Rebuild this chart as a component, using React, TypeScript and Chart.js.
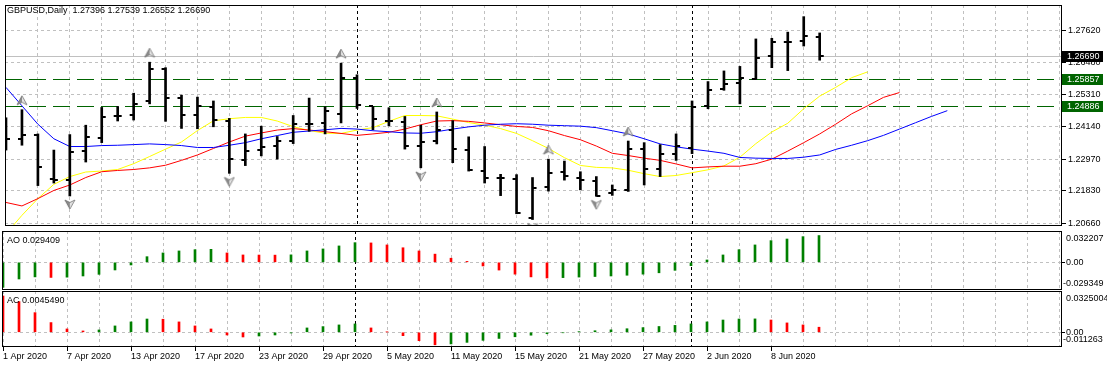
import React, { useEffect, useRef } from "react";
import { Chart, registerables } from "chart.js";

Chart.register(...registerables);

// ---------------- DATA ----------------
const symbolTitle = "GBPUSD,Daily";

const dateLabels = [
  "1 Apr 2020", "7 Apr 2020", "13 Apr 2020", "17 Apr 2020", "23 Apr 2020",
  "29 Apr 2020", "5 May 2020", "11 May 2020", "15 May 2020", "21 May 2020",
  "27 May 2020", "2 Jun 2020", "8 Jun 2020",
];
const dateLabelIndex = [0, 4, 8, 12, 16, 20, 24, 28, 32, 36, 40, 44, 48];
const monthStartIndex = [22, 43];

const opens = [
  1.2410, 1.23686, 1.23861, 1.22247, 1.22224, 1.23253, 1.23732, 1.24516, 1.24562, 1.25089,
  1.26235, 1.25171, 1.24562, 1.24855, 1.24364, 1.22949, 1.23288, 1.23452, 1.23639, 1.24247,
  1.24282, 1.24598, 1.25896, 1.24878, 1.24364, 1.24329, 1.23452, 1.23615, 1.24025, 1.23300,
  1.22528, 1.22282, 1.22236, 1.20844, 1.21967, 1.22493, 1.22282, 1.22177, 1.21756, 1.21861,
  1.23335, 1.22598, 1.23171, 1.23358, 1.24878, 1.25510, 1.25732, 1.25884, 1.26714, 1.27217,
  1.27264, 1.27396,
];
const highs = [
  1.24469, 1.24761, 1.23884, 1.23300, 1.23861, 1.24200, 1.24843, 1.24878, 1.25358, 1.26480,
  1.26281, 1.25288, 1.25217, 1.25077, 1.24446, 1.23884, 1.24165, 1.23791, 1.24551, 1.25182,
  1.24867, 1.26445, 1.26024, 1.24878, 1.24831, 1.24516, 1.24200, 1.24679, 1.24364, 1.23779,
  1.23428, 1.22423, 1.22411, 1.22306, 1.22972, 1.22902, 1.22516, 1.22341, 1.22037, 1.23627,
  1.23569, 1.23498, 1.23884, 1.25077, 1.25779, 1.26164, 1.26328, 1.27322, 1.27345, 1.27568,
  1.28129, 1.27539,
];
const lows = [
  1.23300, 1.23475, 1.22014, 1.22107, 1.21639, 1.22867, 1.23569, 1.24352, 1.24387, 1.24972,
  1.24340, 1.24083, 1.24071, 1.24142, 1.22458, 1.22738, 1.23089, 1.22972, 1.23534, 1.23978,
  1.23884, 1.24282, 1.24808, 1.24036, 1.24177, 1.23335, 1.22657, 1.23522, 1.22844, 1.22540,
  1.22107, 1.21651, 1.20996, 1.20786, 1.21815, 1.22212, 1.21861, 1.21628, 1.21660, 1.21803,
  1.22037, 1.22341, 1.22926, 1.23171, 1.24796, 1.25463, 1.24972, 1.25860, 1.26281, 1.26176,
  1.27065, 1.26552,
];
const closes = [
  1.23686, 1.23861, 1.22692, 1.22212, 1.23218, 1.23767, 1.24492, 1.24516, 1.24983, 1.26235,
  1.25182, 1.24562, 1.24902, 1.24387, 1.22972, 1.23253, 1.23405, 1.23615, 1.24235, 1.24247,
  1.24703, 1.25896, 1.24937, 1.24434, 1.24364, 1.23440, 1.23580, 1.24025, 1.23323, 1.22586,
  1.22306, 1.22282, 1.21020, 1.21932, 1.22458, 1.22353, 1.22212, 1.21651, 1.21838, 1.23323,
  1.22598, 1.23159, 1.23440, 1.24843, 1.25463, 1.25685, 1.25919, 1.26620, 1.27193, 1.27217,
  1.27439, 1.26690,
];

// Alligator (already shifted forward, as drawn)
const jawBlue = [
  1.25568, 1.24902, 1.24235, 1.23709, 1.23428, 1.23428, 1.23463, 1.23474, 1.23498, 1.23523,
  1.23498, 1.23463, 1.23393, 1.23393, 1.23474, 1.23568, 1.23709, 1.23825, 1.23944, 1.23989,
  1.24035, 1.24084, 1.24060, 1.24000, 1.23965, 1.23919, 1.23909, 1.23965, 1.24060, 1.24140,
  1.24200, 1.24235, 1.24253, 1.24235, 1.24200, 1.24182, 1.24165, 1.24112, 1.24000, 1.23884,
  1.23709, 1.23523, 1.23418, 1.23333, 1.23263, 1.23183, 1.23032, 1.23007, 1.22997, 1.22997,
  1.23042, 1.23123, 1.23323, 1.23474, 1.23639, 1.23832, 1.24060, 1.24288, 1.24516, 1.24726,
];
const teethRed = [
  1.21404, 1.21278, 1.21544, 1.21839, 1.22036, 1.22306, 1.22516, 1.22562, 1.22597, 1.22656,
  1.22751, 1.22927, 1.23123, 1.23358, 1.23593, 1.23804, 1.23919, 1.24025, 1.24077, 1.24025,
  1.23965, 1.23902, 1.23832, 1.23884, 1.23944, 1.24060, 1.24217, 1.24351, 1.24365, 1.24340,
  1.24281, 1.24217, 1.24155, 1.24119, 1.24000, 1.23825, 1.23674, 1.23446, 1.23183, 1.23102,
  1.23007, 1.22927, 1.22797, 1.22656, 1.22691, 1.22716, 1.22716, 1.22807, 1.22972, 1.23263,
  1.23568, 1.23884, 1.24235, 1.24610, 1.24902, 1.25207, 1.25382,
];
const lipsYellow = [
  1.20271, 1.20938, 1.21544, 1.22060, 1.22341, 1.22506, 1.22541, 1.22597, 1.22807, 1.23067,
  1.23333, 1.23593, 1.24007, 1.24358, 1.24435, 1.24481, 1.24481, 1.24351, 1.24147, 1.24007,
  1.23909, 1.23902, 1.24025, 1.24112, 1.24340, 1.24551, 1.24551, 1.24540, 1.24421, 1.24295,
  1.24200, 1.24077, 1.23902, 1.23639, 1.23358, 1.23025, 1.22744, 1.22674, 1.22656, 1.22569,
  1.22446, 1.22341, 1.22380, 1.22481, 1.22586, 1.22727, 1.23042, 1.23533, 1.23954, 1.24270,
  1.24796, 1.25252, 1.25568, 1.25919, 1.26129,
];

const fractalUpIndex = [1, 9, 21, 27, 34, 39];
const fractalDownIndex = [4, 14, 26, 33, 37];

const aoValues = [
  -0.0274, -0.0183, -0.0160, -0.0166, -0.0163, -0.0150, -0.0132, -0.0084, -0.0029, 0.0062,
  0.0103, 0.0125, 0.0139, 0.0143, 0.0103, 0.0081, 0.0080, 0.0079, 0.0082, 0.0125,
  0.0147, 0.0180, 0.0216, 0.0213, 0.0191, 0.0160, 0.0125, 0.0090, 0.0045, 0.0010,
  -0.0040, -0.0085, -0.0130, -0.0160, -0.0172, -0.0168, -0.0162, -0.0156, -0.0150, -0.0142,
  -0.0130, -0.0115, -0.0088, -0.0037, 0.0026, 0.0081, 0.0139, 0.0191, 0.0238, 0.0256,
  0.0282, 0.029409,
];
const acValues = [
  0.0325, 0.0275, 0.0176, 0.0087, 0.0030, 0.0012, 0.0021, 0.0057, 0.0093, 0.0119,
  0.0117, 0.0093, 0.0057, 0.0030, -0.0024, -0.0042, -0.0033, -0.0024, -0.0006, 0.0039,
  0.0051, 0.0066, 0.0075, 0.0039, 0.0003, -0.0030, -0.0075, -0.0112, -0.0104, -0.0090,
  -0.0072, -0.0055, -0.0040, -0.0026, -0.0013, -0.0004, 0.0006, 0.0014, 0.0022, 0.0032,
  0.0042, 0.0052, 0.0062, 0.0075, 0.0093, 0.0110, 0.0119, 0.0120, 0.0110, 0.0084,
  0.0066, 0.004549,
];

const priceTicks = [1.2066, 1.2183, 1.2297, 1.2414, 1.2531, 1.2648, 1.2762];
const levelLines = [1.25857, 1.24886];
const aoAxisLabels = ["0.032207", "0.00", "-0.029349"];
const acAxisLabels = ["0.0325004", "0.00", "-0.011263"];
const aoName = "AO 0.029409";
const acName = "AC 0.0045490";

// ---------------- RANGES / STYLE ----------------
const X_MIN = -0.0625;
const X_MAX = 66.1875;
const PRICE_MIN = 1.20552;
const PRICE_MAX = 1.2855;
const AO_MIN = -0.0304;
const AO_MAX = 0.0344;
const AC_MIN = -0.01316;
const AC_MAX = 0.03697;

const FONT = "'Liberation Sans', Arial, sans-serif";
const GRID = "#c0c0c0";
const GREEN = "#008000";
const RED = "#ff0000";

const zeroPad = (s: any) => {
  s.paddingLeft = 0;
  s.paddingRight = 0;
  s.paddingTop = 0;
  s.paddingBottom = 0;
};

const evenTicks = (s: any) => {
  const t: any[] = [];
  for (let v = 0; v <= X_MAX; v += 2) t.push({ value: v });
  s.ticks = t;
};

const xGridScale = () => ({
  type: "linear",
  position: "bottom",
  min: X_MIN,
  max: X_MAX,
  offset: false,
  afterBuildTicks: evenTicks,
  afterFit: (s: any) => {
    s.height = 0;
    zeroPad(s);
  },
  grid: { color: GRID, drawTicks: false, offset: false, lineWidth: 1 },
  border: { display: false, dash: [3, 3] },
  ticks: { display: false },
});

function makeTick(side: "left" | "right") {
  const c = document.createElement("canvas");
  c.width = 10;
  c.height = 2;
  const g = c.getContext("2d")!;
  g.fillStyle = "#000";
  if (side === "left") g.fillRect(1, 0, 4, 2);
  else g.fillRect(5, 0, 4, 2);
  return c;
}

function makeArrow(up: boolean) {
  const c = document.createElement("canvas");
  c.width = 12;
  c.height = 40;
  const g = c.getContext("2d")!;
  const cx = 6;
  const cy = up ? 20 - 9.5 : 20 + 8.5;
  const s = up ? 1 : -1;
  const apexY = cy - 4.5 * s;
  const baseY = cy + 4.5 * s;
  const notchY = cy + 2 * s;
  g.beginPath();
  g.moveTo(cx, apexY);
  g.lineTo(cx + 5, baseY);
  g.lineTo(cx, notchY);
  g.lineTo(cx - 5, baseY);
  g.closePath();
  g.fillStyle = "#e4e4e4";
  g.fill();
  g.beginPath();
  g.moveTo(cx, apexY);
  g.lineTo(cx, notchY);
  g.lineTo(cx - 5, baseY);
  g.closePath();
  g.fillStyle = "#8c8c8c";
  g.fill();
  g.beginPath();
  g.moveTo(cx, apexY);
  g.lineTo(cx + 5, baseY);
  g.lineTo(cx, notchY);
  g.lineTo(cx - 5, baseY);
  g.closePath();
  g.strokeStyle = "#707070";
  g.lineWidth = 0.8;
  g.stroke();
  return c;
}

const framePlugin = {
  id: "frame",
  afterDraw(chart: any) {
    const { ctx, chartArea: a } = chart;
    ctx.save();
    ctx.strokeStyle = "#000";
    ctx.lineWidth = 1;
    ctx.setLineDash([]);
    ctx.strokeRect(a.left + 0.5, a.top + 0.5, a.right - a.left - 1, a.bottom - a.top - 1);
    ctx.restore();
  },
};

const separatorPlugin = {
  id: "separators",
  beforeDatasetsDraw(chart: any) {
    const { ctx, chartArea: a } = chart;
    const xs = chart.scales.x;
    ctx.save();
    ctx.strokeStyle = "#000";
    ctx.lineWidth = 1;
    ctx.setLineDash([3, 3]);
    monthStartIndex.forEach((i) => {
      const x = Math.round(xs.getPixelForValue(i)) + 0.5;
      ctx.beginPath();
      ctx.moveTo(x, a.top);
      ctx.lineTo(x, a.bottom);
      ctx.stroke();
    });
    ctx.restore();
  },
};

function colorsFor(values: number[], firstColor: string) {
  return values.map((v, i) => (i === 0 ? firstColor : v > values[i - 1] ? GREEN : RED));
}

export default function App() {
  const mainRef = useRef<HTMLCanvasElement>(null);
  const aoRef = useRef<HTMLCanvasElement>(null);
  const acRef = useRef<HTMLCanvasElement>(null);

  useEffect(() => {
    Chart.defaults.font.family = FONT;
    Chart.defaults.font.size = 9;
    Chart.defaults.color = "#000";

    const leftTick = makeTick("left");
    const rightTick = makeTick("right");
    const upArrow = makeArrow(true);
    const downArrow = makeArrow(false);

    const commonPlugins = {
      legend: { display: false },
      tooltip: { enabled: false },
      colors: { enabled: false },
    };

    const mainOverlay = {
      id: "mainOverlay",
      beforeDatasetsDraw(chart: any) {
        const { ctx, chartArea: a } = chart;
        const ys = chart.scales.y;
        ctx.save();
        const yb = Math.round(ys.getPixelForValue(closes[closes.length - 1])) + 0.5;
        ctx.strokeStyle = "#c0c0c0";
        ctx.lineWidth = 1;
        ctx.beginPath();
        ctx.moveTo(a.left, yb);
        ctx.lineTo(a.right, yb);
        ctx.stroke();
        ctx.strokeStyle = "#006400";
        ctx.setLineDash([17, 7]);
        levelLines.forEach((lv) => {
          const y = Math.round(ys.getPixelForValue(lv)) + 0.5;
          ctx.beginPath();
          ctx.moveTo(a.left, y);
          ctx.lineTo(a.right, y);
          ctx.stroke();
        });
        ctx.restore();
      },
      afterDraw(chart: any) {
        const { ctx, chartArea: a } = chart;
        const ys = chart.scales.y;
        ctx.save();
        ctx.font = `9px ${FONT}`;
        ctx.textBaseline = "middle";
        ctx.fillStyle = "#000";
        const n = closes.length - 1;
        const title = `${symbolTitle}  ${opens[n].toFixed(5)} ${highs[n].toFixed(5)} ${lows[n].toFixed(5)} ${closes[n].toFixed(5)}`;
        ctx.fillText(title, 7, 11);
        const box = (val: number, bg: string) => {
          const y = Math.round(ys.getPixelForValue(val));
          ctx.fillStyle = bg;
          ctx.fillRect(a.right, y - 5, 41, 11);
          ctx.fillStyle = "#fff";
          ctx.fillText(val.toFixed(5), a.right + 5, y + 0.5);
        };
        levelLines.forEach((lv) => box(lv, "#006400"));
        box(closes[n], "#000");
        ctx.restore();
      },
    };

    const main = new Chart(mainRef.current!, {
      type: "bar",
      data: {
        datasets: [
          {
            type: "scatter",
            data: fractalUpIndex.map((i) => ({ x: i, y: highs[i] })),
            pointStyle: upArrow as any,
            borderColor: "#707070",
            backgroundColor: "#c0c0c0",
            order: 0,
          },
          {
            type: "scatter",
            data: fractalDownIndex.map((i) => ({ x: i, y: lows[i] })),
            pointStyle: downArrow as any,
            borderColor: "#707070",
            backgroundColor: "#c0c0c0",
            order: 0,
          },
          {
            type: "scatter",
            data: opens.map((v, i) => ({ x: i, y: v })),
            pointStyle: leftTick as any,
            borderColor: "#000",
            backgroundColor: "#000",
            order: 1,
          },
          {
            type: "scatter",
            data: closes.map((v, i) => ({ x: i, y: v })),
            pointStyle: rightTick as any,
            borderColor: "#000",
            backgroundColor: "#000",
            order: 1,
          },
          {
            type: "bar",
            data: highs.map((h, i) => ({ x: i, y: [lows[i], h] })) as any,
            backgroundColor: "#000",
            borderColor: "#000",
            borderWidth: 0,
            barThickness: 2,
            grouped: false,
            order: 2,
          },
          {
            type: "line",
            data: jawBlue.map((v, i) => ({ x: i, y: v })),
            borderColor: "#0000ff",
            backgroundColor: "#0000ff",
            borderWidth: 1,
            pointRadius: 0,
            tension: 0,
            order: 3,
          },
          {
            type: "line",
            data: teethRed.map((v, i) => ({ x: i, y: v })),
            borderColor: "#ff0000",
            backgroundColor: "#ff0000",
            borderWidth: 1,
            pointRadius: 0,
            tension: 0,
            order: 3,
          },
          {
            type: "line",
            data: lipsYellow.map((v, i) => ({ x: i, y: v })),
            borderColor: "#ffff00",
            backgroundColor: "#ffff00",
            borderWidth: 1,
            pointRadius: 0,
            tension: 0,
            order: 3,
          },
        ] as any,
      },
      options: {
        responsive: false,
        animation: false,
        devicePixelRatio: 1,
        events: [],
        layout: { padding: { left: 2, top: 2, right: 0, bottom: 1 } },
        plugins: commonPlugins as any,
        scales: {
          x: xGridScale() as any,
          y: {
            type: "linear",
            position: "right",
            min: PRICE_MIN,
            max: PRICE_MAX,
            afterBuildTicks: (s: any) => {
              s.ticks = priceTicks.map((v) => ({ value: v }));
            },
            afterFit: (s: any) => {
              s.width = 45;
              zeroPad(s);
            },
            grid: { color: GRID, drawTicks: true, tickLength: 4, tickColor: "#000", tickBorderDash: [] } as any,
            border: { display: false, dash: [3, 3] },
            ticks: {
              color: "#000",
              font: { family: FONT, size: 9 },
              padding: 2,
              callback: (v: any) => Number(v).toFixed(5),
            },
          } as any,
        },
      },
      plugins: [separatorPlugin, mainOverlay, framePlugin],
    });

    const subOverlay = (name: string, labels: string[], bottomOff: number) => ({
      id: "subOverlay",
      afterDraw(chart: any) {
        const { ctx, chartArea: a } = chart;
        const ys = chart.scales.y;
        ctx.save();
        ctx.font = `9px ${FONT}`;
        ctx.textBaseline = "middle";
        ctx.fillStyle = "#000";
        ctx.fillText(name, 7, a.top + 9.5);
        const y0 = ys.getPixelForValue(0);
        ctx.fillText(labels[0], a.right + 4, a.top + 8);
        ctx.fillText(labels[1], a.right + 4, y0 + 0.5);
        ctx.fillText(labels[2], a.right + 1, a.bottom - bottomOff);
        ctx.restore();
      },
    });

    const subY = (min: number, max: number) => ({
      type: "linear",
      position: "right",
      min,
      max,
      afterBuildTicks: (s: any) => {
        s.ticks = [{ value: 0 }];
      },
      afterFit: (s: any) => {
        s.width = 45;
        zeroPad(s);
      },
      grid: { color: GRID, drawTicks: true, tickLength: 3, tickColor: "#000", tickBorderDash: [] },
      border: { display: false, dash: [3, 3] },
      ticks: { display: false },
    });

    const aoColors = colorsFor(aoValues, GREEN);
    const ao = new Chart(aoRef.current!, {
      type: "bar",
      data: {
        datasets: [
          {
            data: aoValues.map((v, i) => ({ x: i, y: v })) as any,
            backgroundColor: aoColors,
            borderColor: aoColors,
            borderWidth: 0,
            barThickness: 2,
          },
        ],
      },
      options: {
        responsive: false,
        animation: false,
        devicePixelRatio: 1,
        events: [],
        layout: { padding: { left: 2, top: 0, right: 0, bottom: 0 } },
        plugins: commonPlugins as any,
        scales: { x: xGridScale() as any, y: subY(AO_MIN, AO_MAX) as any },
      },
      plugins: [separatorPlugin, subOverlay(aoName, aoAxisLabels, 6), framePlugin],
    });

    const acColors = colorsFor(acValues, RED);
    const ac = new Chart(acRef.current!, {
      type: "bar",
      data: {
        datasets: [
          {
            data: acValues.map((v, i) => ({ x: i, y: v })) as any,
            backgroundColor: acColors,
            borderColor: acColors,
            borderWidth: 0,
            barThickness: 2,
          },
        ],
      },
      options: {
        responsive: false,
        animation: false,
        devicePixelRatio: 1,
        events: [],
        layout: { padding: { left: 2, top: 0, right: 0, bottom: 0 } },
        plugins: commonPlugins as any,
        scales: {
          x: xGridScale() as any,
          x2: {
            type: "linear",
            position: "bottom",
            min: X_MIN,
            max: X_MAX,
            offset: false,
            afterBuildTicks: (s: any) => {
              s.ticks = dateLabelIndex.map((v) => ({ value: v }));
            },
            afterFit: (s: any) => {
              s.height = 20;
              zeroPad(s);
            },
            grid: { drawOnChartArea: false, drawTicks: true, tickLength: 4, tickColor: "#000", color: "#000", offset: false },
            border: { display: false },
            ticks: {
              display: true,
              autoSkip: false,
              maxRotation: 0,
              minRotation: 0,
              align: "start",
              padding: 0,
              color: "#000",
              font: { family: FONT, size: 9 },
              callback: (_v: any, idx: number) => dateLabels[idx],
            },
          } as any,
          y: subY(AC_MIN, AC_MAX) as any,
        },
      },
      plugins: [separatorPlugin, subOverlay(acName, acAxisLabels, 7), framePlugin],
    });

    return () => {
      main.destroy();
      ao.destroy();
      ac.destroy();
    };
  }, []);

  return (
    <div
      style={{
        position: "absolute",
        left: 0,
        top: 0,
        width: 1107,
        height: 367,
        background: "#fff",
        overflow: "hidden",
      }}
    >
      <canvas ref={mainRef} width={1107} height={231} style={{ position: "absolute", left: 0, top: 0 }} />
      <canvas ref={aoRef} width={1107} height={59} style={{ position: "absolute", left: 0, top: 231 }} />
      <canvas ref={acRef} width={1107} height={76} style={{ position: "absolute", left: 0, top: 291 }} />
    </div>
  );
}
